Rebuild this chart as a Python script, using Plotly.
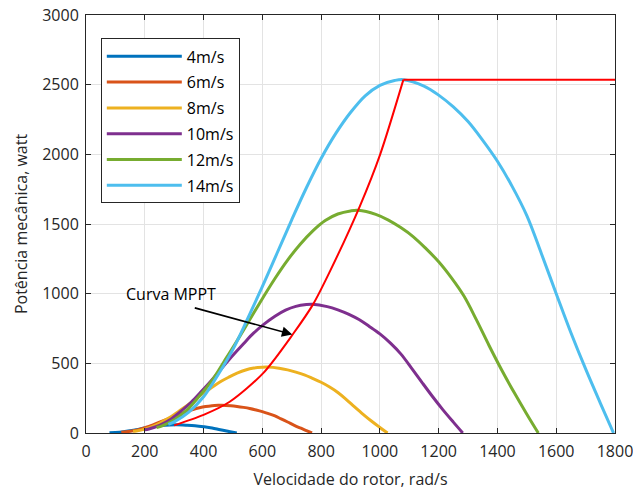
import plotly.graph_objects as go

# ---- data ----
names = ["4m/s", "6m/s", "8m/s", "10m/s", "12m/s", "14m/s"]

w_4 = [80, 114, 143, 171, 200, 229, 257, 286, 309, 343, 371, 400, 429, 457, 486, 513]
p_4 = [1, 6, 14, 24, 36, 46, 54, 58, 59, 56, 52, 45, 36, 23, 11, 0]

w_6 = [120, 150, 171, 193, 214, 236, 257, 279, 300, 321, 343, 364, 386, 407, 429, 450, 463,
       493, 514, 536, 557, 579, 600, 621, 643, 664, 686, 707, 729, 750, 769]
p_6 = [5, 12, 20, 33, 47, 65, 83, 102, 120, 139, 155, 169, 181, 190, 196, 199, 200,
       196, 191, 184, 176, 165, 153, 139, 123, 101, 79, 57, 36, 17, 0]

w_8 = [160, 171, 200, 229, 257, 286, 314, 343, 371, 400, 429, 457, 486, 514, 543, 571, 600, 617,
       657, 686, 714, 743, 771, 800, 829, 857, 886, 914, 943, 971, 1000, 1026]
p_8 = [12, 15, 28, 49, 78, 112, 153, 196, 241, 286, 328, 368, 401, 429, 452, 466, 472, 473,
       465, 453, 437, 417, 392, 364, 330, 291, 240, 187, 134, 86, 40, 0]

w_10 = [200, 214, 250, 286, 321, 357, 393, 429, 464, 500, 536, 571, 607, 643, 679, 714, 750, 771,
        821, 857, 893, 929, 964, 1000, 1036, 1071, 1107, 1143, 1179, 1214, 1250, 1282]
p_10 = [23, 29, 55, 95, 153, 219, 299, 383, 470, 558, 641, 718, 783, 838, 882, 909, 922, 924,
        907, 884, 853, 814, 765, 711, 645, 568, 468, 364, 262, 168, 78, 0]

w_12 = [240, 257, 300, 343, 386, 429, 471, 514, 557, 600, 643, 686, 729, 771, 814, 857, 900, 926,
        986, 1029, 1071, 1114, 1157, 1200, 1243, 1286, 1329, 1371, 1414, 1457, 1500, 1539]
p_12 = [39, 50, 95, 164, 265, 378, 517, 662, 813, 964, 1109, 1241, 1355, 1449, 1525, 1572, 1594, 1598,
        1569, 1528, 1474, 1408, 1323, 1229, 1115, 983, 810, 630, 454, 290, 135, 0]

w_14 = [280, 300, 350, 400, 450, 500, 550, 600, 650, 700, 750, 800, 850, 900, 950, 1000, 1050, 1080,
        1150, 1200, 1250, 1300, 1350, 1400, 1450, 1500, 1550, 1600, 1650, 1700, 1750, 1795]
p_14 = [62, 80, 150, 260, 420, 600, 820, 1050, 1290, 1530, 1760, 1970, 2150, 2300, 2420, 2495, 2530, 2536,
        2490, 2425, 2340, 2235, 2100, 1950, 1770, 1560, 1285, 1000, 720, 460, 215, 0]

w_mppt = [300, 400, 489, 603, 705, 773, 830, 932, 1001, 1080]
p_mppt = [55, 130, 224, 430, 712, 925, 1160, 1629, 2000, 2536]
w_flat = [1080, 1800]
p_flat = [2536, 2536]

arrow_label = "Curva MPPT"
label_pos = (450, 995)
arrow_tail = (365, 901)
arrow_head = (702, 707)

x_title = "Velocidade do rotor, rad/s"
y_title = "Potência mecânica, watt"

# ---- styles ----
colors = ["#0072BD", "#D95319", "#EDB120", "#7E2F8E", "#77AC30", "#4DBEEE"]
FONT = "Open Sans"
AX = "#262626"

series = [(w_4, p_4), (w_6, p_6), (w_8, p_8), (w_10, p_10), (w_12, p_12), (w_14, p_14)]

fig = go.Figure()
for (w, p), n, c in zip(series, names, colors):
    fig.add_trace(go.Scatter(x=w, y=p, mode="lines", name=n, legendgroup=n,
                             line=dict(color=c, width=3, shape="spline", smoothing=1.0)))

fig.add_trace(go.Scatter(x=w_mppt, y=p_mppt, mode="lines", showlegend=False,
                         line=dict(color="#FF0000", width=2, shape="spline", smoothing=0.8)))
fig.add_trace(go.Scatter(x=w_flat, y=p_flat, mode="lines", showlegend=False,
                         line=dict(color="#FF0000", width=2)))

fig.add_annotation(x=arrow_head[0], y=arrow_head[1], ax=arrow_tail[0], ay=arrow_tail[1],
                   xref="x", yref="y", axref="x", ayref="y", text="",
                   showarrow=True, arrowhead=2, arrowsize=1.3, arrowwidth=1.6, arrowcolor="black")
fig.add_annotation(x=label_pos[0], y=label_pos[1], xref="x", yref="y",
                   text=arrow_label, showarrow=False, xanchor="right", yanchor="middle",
                   font=dict(family=FONT, size=16, color="black"))

axis_common = dict(showline=True, linecolor=AX, linewidth=1, mirror="ticks",
                   ticks="inside", ticklen=5, tickcolor=AX, showgrid=True,
                   gridcolor="#E3E3E3", gridwidth=1, zeroline=False, automargin=False,
                   ticklabeloverflow="allow",
                   tickfont=dict(family=FONT, size=16, color="#262626"))

fig.update_layout(
    width=633, height=491,
    margin=dict(l=86, r=18, t=15, b=58),
    paper_bgcolor="white", plot_bgcolor="white",
    font=dict(family=FONT, color="#262626"),
    xaxis=dict(range=[0, 1800], dtick=200, ticklabelstandoff=4,
               title=dict(text=x_title, font=dict(size=16), standoff=12),
               **axis_common),
    yaxis=dict(range=[0, 3000], dtick=500, ticklabelstandoff=3,
               title=dict(text=y_title, font=dict(size=16), standoff=10),
               **axis_common),
    legend=dict(x=0.028, y=0.944, xanchor="left", yanchor="top",
                bgcolor="white", bordercolor=AX, borderwidth=1,
                font=dict(family=FONT, size=16, color="black"), itemwidth=75,
                entrywidth=135, traceorder="grouped", tracegroupgap=2),
    showlegend=True,
)

fig.write_html("out.html", config={"displayModeBar": False},
               post_script="document.body.style.margin='0px';")
